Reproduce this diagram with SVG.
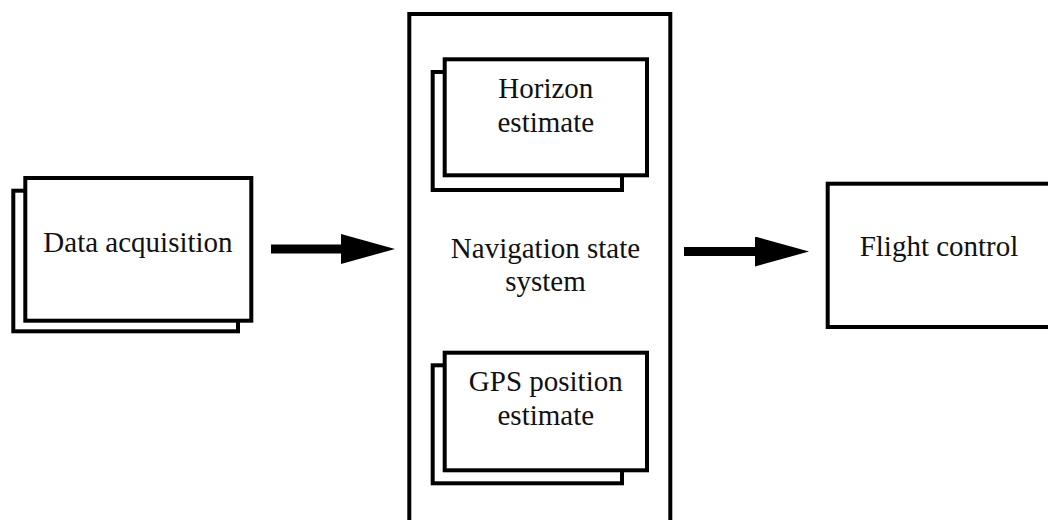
<svg xmlns="http://www.w3.org/2000/svg" width="1048" height="520" viewBox="0 0 1048 520">
  <style>
    .box { fill: #ffffff; stroke: #000000; stroke-width: 4; }
    .label { font-family: "Liberation Serif", "Times New Roman", serif; font-size: 29px; fill: #111111; text-anchor: middle; }
    .flow { stroke: #000000; stroke-width: 9; fill: none; }
  </style>
  <defs>
    <marker id="head" markerUnits="userSpaceOnUse" markerWidth="56" markerHeight="32" refX="0" refY="15" orient="auto">
      <path d="M0,0 L54,15 L0,30 Z" fill="#000000"/>
    </marker>
  </defs>
  <rect width="1048" height="520" fill="#ffffff"/>

  <!-- Data acquisition (stacked) -->
  <g id="data-acquisition">
    <rect class="box" x="13.3" y="190.7" width="224.7" height="140.6"/>
    <rect class="box" x="25.3" y="178" width="226" height="142.7"/>
    <text class="label" x="138" y="252">Data acquisition</text>
  </g>

  <!-- Navigation state system container -->
  <g id="navigation-state-system">
    <rect class="box" x="409.3" y="14" width="261" height="520"/>
    <text class="label" x="545.5" y="258">Navigation state</text>
    <text class="label" x="545.5" y="291">system</text>
  </g>

  <!-- Horizon estimate (stacked) -->
  <g id="horizon-estimate">
    <rect class="box" x="432.7" y="72" width="189.3" height="118"/>
    <rect class="box" x="444.7" y="59.3" width="202.3" height="116"/>
    <text class="label" x="545.8" y="98">Horizon</text>
    <text class="label" x="545.8" y="132">estimate</text>
  </g>

  <!-- GPS position estimate (stacked) -->
  <g id="gps-position-estimate">
    <rect class="box" x="432.7" y="365.3" width="189.3" height="118"/>
    <rect class="box" x="444.7" y="352.7" width="202.3" height="117.6"/>
    <text class="label" x="545.8" y="391">GPS position</text>
    <text class="label" x="545.8" y="425">estimate</text>
  </g>

  <!-- Flight control -->
  <g id="flight-control">
    <rect class="box" x="827.7" y="183.7" width="230" height="143.3"/>
    <text class="label" x="939" y="256">Flight control</text>
  </g>

  <!-- Connectors -->
  <g id="connectors">
    <line class="flow" x1="271" y1="249" x2="341" y2="249" marker-end="url(#head)"/>
    <line class="flow" x1="684" y1="251.5" x2="755" y2="251.5" marker-end="url(#head)"/>
  </g>
</svg>
